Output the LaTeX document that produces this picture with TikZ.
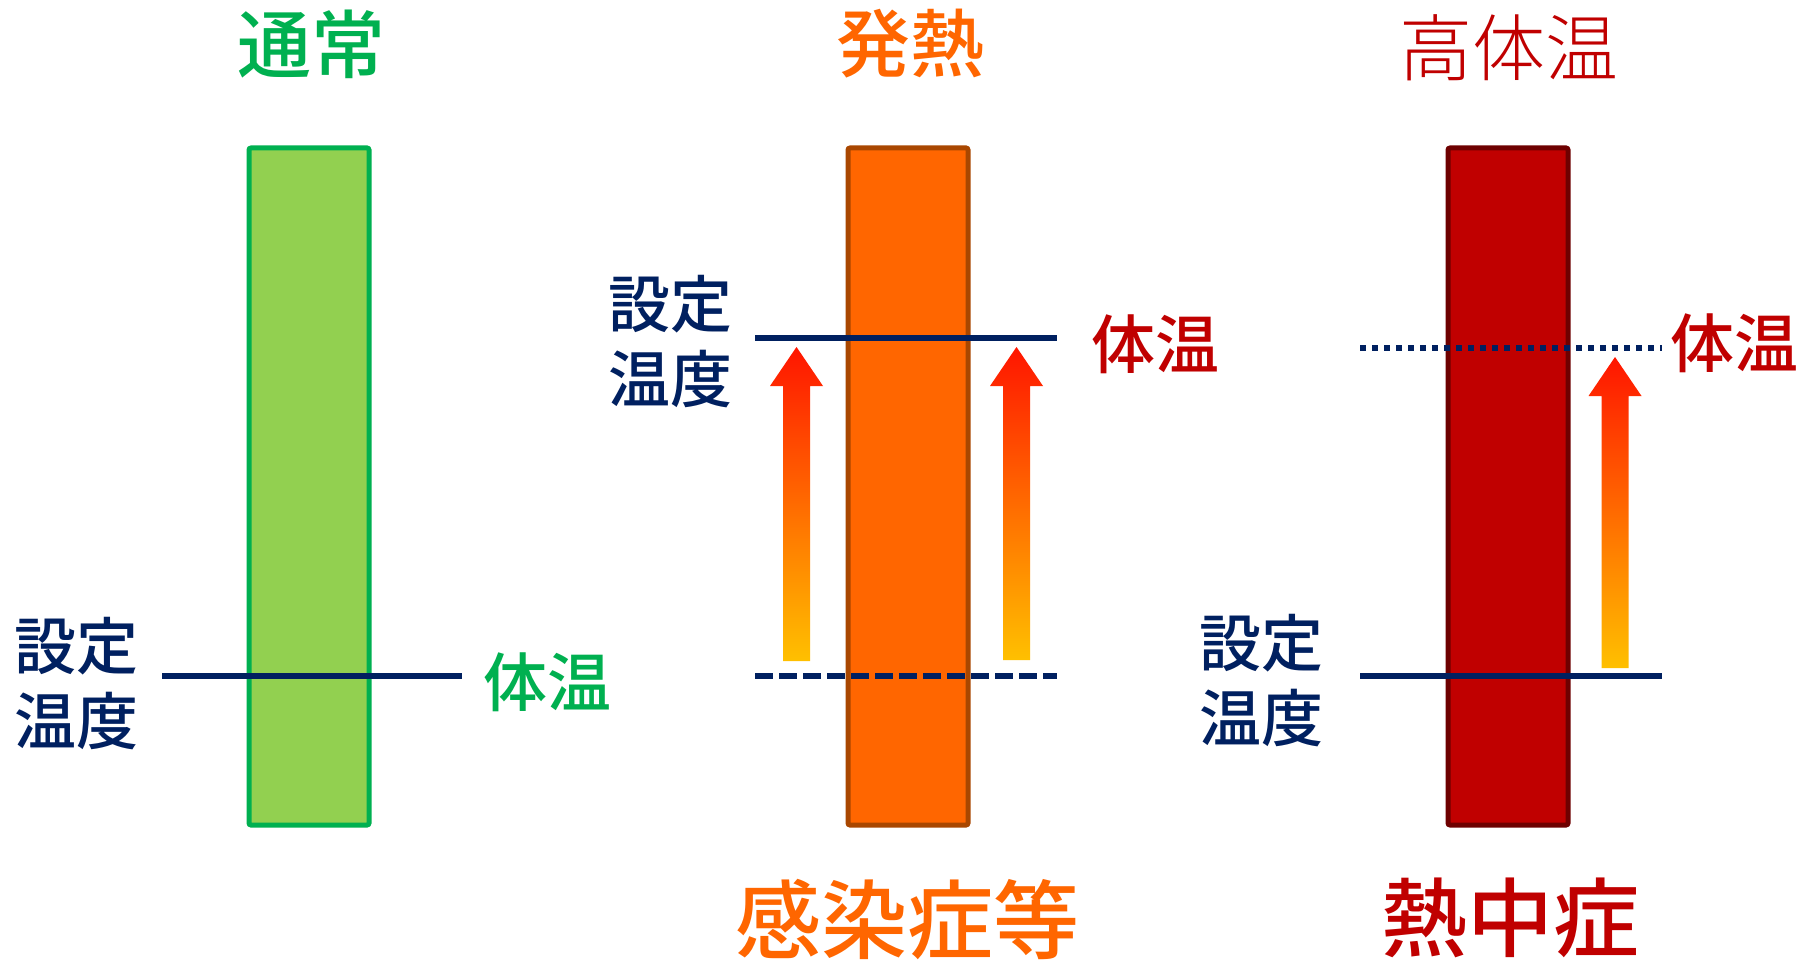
\documentclass[tikz,border=0pt]{standalone}
\usepackage{fontspec}
\newfontfamily\jp{Noto Sans CJK JP}
\newfontfamily\jpm{Noto Sans CJK JP Medium}
\newfontfamily\jpl{Noto Sans CJK JP Light}
\definecolor{navy}{HTML}{002060}
\definecolor{gtxt}{HTML}{00B050}
\definecolor{gfill}{HTML}{92D050}
\definecolor{ofill}{HTML}{FF6600}
\definecolor{oedge}{HTML}{A94700}
\definecolor{rfill}{HTML}{C00000}
\definecolor{redge}{HTML}{6E0000}
\definecolor{atop}{HTML}{FF1500}
\definecolor{abot}{HTML}{FFC000}
\tikzset{
  bar/.style={draw, line width=5pt, rounded corners=2pt, minimum width=120pt, minimum height=677pt, inner sep=0pt},
  lvl/.style={draw=navy, line width=5.5pt},
  lbl/.style={inner sep=0pt, anchor=center, font=\jpm},
  title/.style={lbl, font=\jpm\fontsize{74pt}{74pt}\selectfont},
  bottom/.style={lbl, font=\jpm\fontsize{86pt}{86pt}\selectfont},
  setpt/.style={lbl, align=center, text=navy, font=\jpm\fontsize{62pt}{75pt}\selectfont},
  temp/.style={lbl, font=\jpm\fontsize{64pt}{64pt}\selectfont},
}
\newcommand\heatarrow[3]{%
  \shade[top color=atop, bottom color=abot]
    (#1,#2) -- (#1+26.5,#2+39) -- (#1+13.5,#2+39) -- (#1+13.5,#3)
    -- (#1-13.5,#3) -- (#1-13.5,#2+39) -- (#1-26.5,#2+39) -- cycle;}
\begin{document}
\begin{tikzpicture}[x=1pt, y=-1pt]
\useasboundingbox (0,0) rectangle (1812,960);
\fill[white] (0,0) rectangle (1812,960);

% bars
\node[bar, draw=gtxt, fill=gfill] (gbar) at (309,486.5) {};
\node[bar, draw=oedge, fill=ofill] (obar) at (908,486.5) {};
\node[bar, draw=redge, fill=rfill] (rbar) at (1508,486.5) {};

% level line coordinates
\coordinate (g1) at (162,676);  \coordinate (g2) at (462,676);
\coordinate (o1) at (755,338);  \coordinate (o2) at (1057,338);
\coordinate (o3) at (755,676);  \coordinate (o4) at (1057,676);
\coordinate (r1) at (1360,348); \coordinate (r2) at (1662,348);
\coordinate (r3) at (1360,676); \coordinate (r4) at (1662,676);

\draw[lvl] (g1) -- (g2);
\draw[lvl] (o1) -- (o2);
\draw[lvl, dash pattern=on 18pt off 6pt] (o3) -- (o4);
\draw[lvl, dash pattern=on 6pt off 6pt] (r1) -- (r2);
\draw[lvl] (r3) -- (r4);

% arrows
\heatarrow{796.5}{347}{661}
\heatarrow{1016.5}{347}{660}
\heatarrow{1615}{357}{668}

% titles
\node[title, text=gtxt] (t1) at (311,44) {通常};
\node[title, text=ofill] (t2) at (910,44) {発熱};
\node[lbl, text=rfill, font=\jpl\fontsize{73pt}{73pt}\selectfont] (t3) at (1509,48) {高体温};

% bottom labels
\node[bottom, text=ofill] (b2) at (907,920) {感染症等};
\node[bottom, text=rfill] (b3) at (1510,918) {熱中症};

% set point labels
\node[setpt] (s1) at (76,684) {設定\\温度};
\node[setpt] (s2) at (670,342) {設定\\温度};
\node[setpt] (s3) at (1261,681) {設定\\温度};

% body temperature labels
\node[temp, text=gtxt] (k1) at (547,682) {体温};
\node[temp, text=rfill] (k2) at (1155,344) {体温};
\node[temp, text=rfill] (k3) at (1734,343) {体温};
\end{tikzpicture}
\end{document}
